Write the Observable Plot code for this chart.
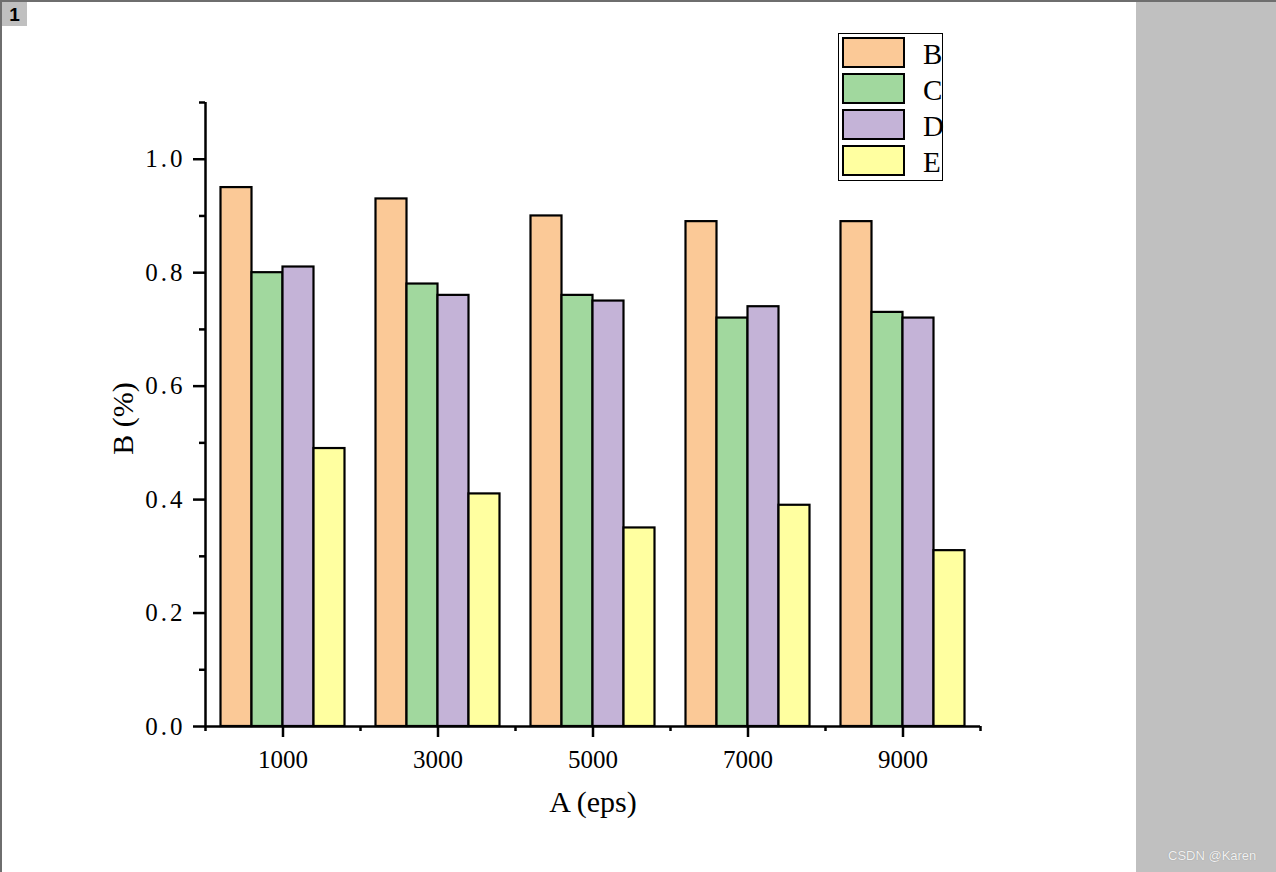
<!DOCTYPE html>
<html>
<head>
<meta charset="utf-8">
<script src="https://cdn.jsdelivr.net/npm/d3@7"></script>
<script src="https://cdn.jsdelivr.net/npm/@observablehq/plot@0.6"></script>
<style>
  html, body { margin: 0; padding: 0; }
  body { width: 1276px; height: 872px; background: #c0c0c0; position: relative; overflow: hidden; font-family: "Liberation Serif", "DejaVu Serif", serif; }
  #page { position: absolute; left: 0; top: 0; width: 1136px; height: 872px; background: #ffffff; border-top: 2px solid #6e6e6e; border-left: 2px solid #6e6e6e; box-sizing: border-box; }
  #topline { position: absolute; left: 1136px; top: 0; width: 140px; height: 2px; background: #6e6e6e; }
  #pagenum { position: absolute; left: 2px; top: 2px; width: 25px; height: 24px; background: #c0c0c0; font: bold 19px "Liberation Sans", Arial, sans-serif; color: #000; text-align: center; line-height: 25px; }
  #chart { position: absolute; left: 0; top: 0; }
  #chart g[aria-label="y-axis tick label"] text { letter-spacing: 3px; }
  #legend { position: absolute; left: 838px; top: 33px; width: 105px; height: 148px; border: 1px solid #000; background: #fff; box-sizing: border-box; }
  .item { position: absolute; left: 3px; width: 105px; height: 31px; }
  .sw { position: absolute; left: 0; top: 0; width: 63px; height: 31px; border: 2px solid #000; box-sizing: border-box; }
  .lb { position: absolute; left: 81px; top: -1px; font-size: 29px; line-height: 36px; color: #000; font-family: "Liberation Serif", serif; }
  #wm { position: absolute; left: 1168px; top: 848px; font: 13px "Liberation Sans", Arial, sans-serif; color: #f2f2f2; text-shadow: 0 0 1px #888; }
</style>
</head>
<body>
<div id="page"></div>
<div id="topline"></div>
<div id="chart"></div>
<div id="pagenum">1</div>
<div id="legend"></div>
<div id="wm">CSDN @Karen</div>
<script>
// ---- data ----
const categories = ["1000", "3000", "5000", "7000", "9000"];
const seriesNames = ["B", "C", "D", "E"];
const seriesColors = ["#fbc997", "#a1d89e", "#c4b3d7", "#ffffa0"];
const valuesB = [0.95, 0.93, 0.90, 0.89, 0.89];
const valuesC = [0.80, 0.78, 0.76, 0.72, 0.73];
const valuesD = [0.81, 0.76, 0.75, 0.74, 0.72];
const valuesE = [0.49, 0.41, 0.35, 0.39, 0.31];
const yMajorTicks = [0, 0.2, 0.4, 0.6, 0.8, 1.0];
const yMinorTicks = [0.1, 0.3, 0.5, 0.7, 0.9, 1.1];
const xLabel = "A (eps)";
const yLabel = "B (%)";

const allValues = [valuesB, valuesC, valuesD, valuesE];
const nSeries = seriesNames.length;
const groupPad = 0.1;                       // fraction of each group left empty on each side
const barW = (1 - 2 * groupPad) / nSeries;  // width of one bar in group units

const rows = [];
categories.forEach((c, gi) => {
  seriesNames.forEach((s, si) => {
    const x1 = gi + groupPad + si * barW;
    rows.push({cat: c, series: s, value: allValues[si][gi], x1, x2: x1 + barW});
  });
});

const groupCenters = categories.map((c, i) => i + 0.5);
const groupEdges = d3.range(categories.length + 1);

const font = "Liberation Serif, DejaVu Serif, serif";

const chart = Plot.plot({
  width: 1136,
  height: 872,
  marginLeft: 205,
  marginRight: 156,
  marginTop: 102,
  marginBottom: 146,
  style: {fontFamily: font, fontSize: "25px", color: "#000", background: "transparent"},
  x: {type: "linear", domain: [0, categories.length]},
  y: {domain: [0, 1.1]},
  color: {domain: seriesNames, range: seriesColors},
  marks: [
    Plot.rectY(rows, {x1: "x1", x2: "x2", y: "value", fill: "series", stroke: "#000", strokeWidth: 2.2}),
    // axis lines
    Plot.ruleY([0], {x1: 0, x2: categories.length, stroke: "#000", strokeWidth: 2.5}),
    Plot.ruleX([0], {y1: 0, y2: 1.1, stroke: "#000", strokeWidth: 2.5}),
    // x axis: labelled ticks at group centres, short ticks at group edges
    Plot.axisX({ticks: groupCenters, tickSize: 11, tickPadding: 13, strokeWidth: 2.5,
      tickFormat: (d) => categories[Math.round(d - 0.5)], fontSize: 25, label: null}),
    Plot.axisX({ticks: groupEdges, tickSize: 5, tickFormat: () => "", strokeWidth: 2.5, label: null}),
    // y axis: major and minor ticks
    Plot.axisY({ticks: yMajorTicks, tickSize: 12, tickPadding: 8, strokeWidth: 2.5,
      tickFormat: (d) => d.toFixed(1), fontSize: 25, label: null}),
    Plot.axisY({ticks: yMinorTicks, tickSize: 6, tickFormat: () => "", strokeWidth: 2.5, label: null}),
    // axis titles
    Plot.text([xLabel], {frameAnchor: "bottom", dy: 76, text: (d) => d, fontSize: 30, fontFamily: font, lineAnchor: "middle", textAnchor: "middle"}),
    Plot.text([yLabel], {frameAnchor: "left", dx: -82, dy: 4, rotate: -90, text: (d) => d, fontSize: 30, fontFamily: font, lineAnchor: "middle", textAnchor: "middle"})
  ]
});
document.getElementById("chart").appendChild(chart);

// ---- legend ----
const legend = document.getElementById("legend");
seriesNames.forEach((s, i) => {
  const item = document.createElement("div");
  item.className = "item";
  item.style.top = (3 + i * 36) + "px";
  const sw = document.createElement("div");
  sw.className = "sw";
  sw.style.background = seriesColors[i];
  const lb = document.createElement("div");
  lb.className = "lb";
  lb.textContent = s;
  item.appendChild(sw);
  item.appendChild(lb);
  legend.appendChild(item);
});
</script>
</body>
</html>
